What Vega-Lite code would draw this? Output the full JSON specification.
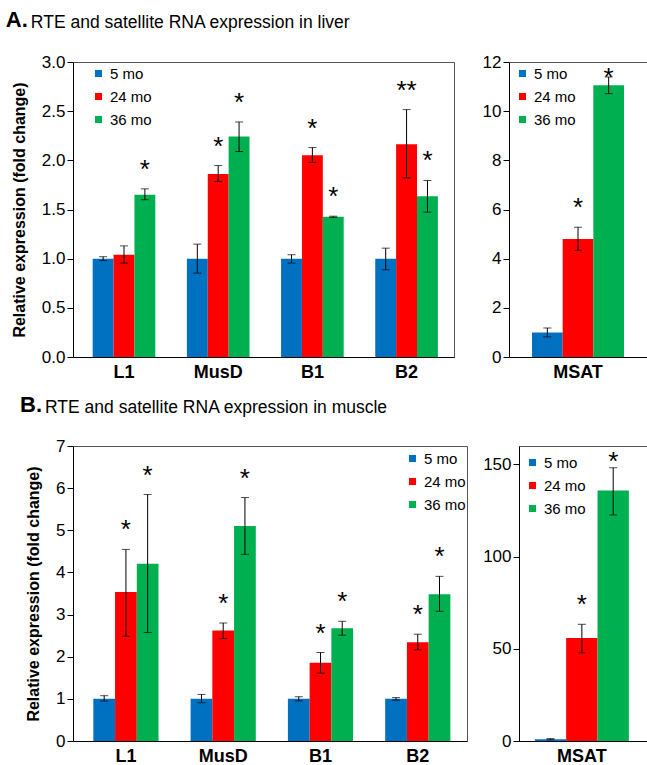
{
  "$schema": "https://vega.github.io/schema/vega-lite/v6.json",
  "padding": {"left": 5, "top": 9, "right": 0, "bottom": 0},
  "background": "white",
  "config": {
    "font": "Liberation Sans",
    "view": {"stroke": "#555", "strokeWidth": 1},
    "axis": {"labelColor": "black", "titleColor": "black", "domainColor": "black", "tickColor": "black", "grid": false, "labelFont": "Liberation Sans", "titleFont": "Liberation Sans"},
    "axisY": {"labelFontSize": 17, "tickSize": 6, "labelPadding": 2, "titleFontSize": 16, "titleFontWeight": "bold", "titlePadding": 14},
    "axisX": {"labelFontSize": 18, "labelFontWeight": "bold", "ticks": false, "labelAngle": 0, "labelPadding": 6, "title": null},
    "legend": {"title": null, "symbolType": "square", "symbolSize": 50, "labelFontSize": 15, "labelColor": "black", "rowPadding": 7, "labelOffset": 4, "symbolStrokeWidth": 0, "padding": 0, "orient": "none"},
    "title": {"color": "black", "anchor": "start", "frame": "bounds"}
  },
  "datasets": {
    "liver": [
      {"gene": "L1", "age": "5 mo", "value": 1.0, "lo": 0.98, "hi": 1.02, "sig": ""},
      {"gene": "L1", "age": "24 mo", "value": 1.04, "lo": 0.955, "hi": 1.13, "sig": ""},
      {"gene": "L1", "age": "36 mo", "value": 1.65, "lo": 1.6, "hi": 1.71, "sig": "*"},
      {"gene": "MusD", "age": "5 mo", "value": 1.0, "lo": 0.853, "hi": 1.148, "sig": ""},
      {"gene": "MusD", "age": "24 mo", "value": 1.862, "lo": 1.785, "hi": 1.947, "sig": "*"},
      {"gene": "MusD", "age": "36 mo", "value": 2.242, "lo": 2.09, "hi": 2.39, "sig": "*"},
      {"gene": "B1", "age": "5 mo", "value": 1.0, "lo": 0.955, "hi": 1.04, "sig": ""},
      {"gene": "B1", "age": "24 mo", "value": 2.052, "lo": 1.98, "hi": 2.13, "sig": "*"},
      {"gene": "B1", "age": "36 mo", "value": 1.426, "lo": 1.42, "hi": 1.432, "sig": "*"},
      {"gene": "B2", "age": "5 mo", "value": 1.0, "lo": 0.887, "hi": 1.107, "sig": ""},
      {"gene": "B2", "age": "24 mo", "value": 2.164, "lo": 1.822, "hi": 2.516, "sig": "**"},
      {"gene": "B2", "age": "36 mo", "value": 1.636, "lo": 1.473, "hi": 1.795, "sig": "*"}
    ],
    "liversat": [
      {"gene": "MSAT", "age": "5 mo", "value": 1.0, "lo": 0.82, "hi": 1.18, "sig": ""},
      {"gene": "MSAT", "age": "24 mo", "value": 4.805, "lo": 4.34, "hi": 5.28, "sig": "*"},
      {"gene": "MSAT", "age": "36 mo", "value": 11.05, "lo": 10.71, "hi": 11.39, "sig": "*"}
    ],
    "muscle": [
      {"gene": "L1", "age": "5 mo", "value": 1.0, "lo": 0.947, "hi": 1.075, "sig": ""},
      {"gene": "L1", "age": "24 mo", "value": 3.536, "lo": 2.486, "hi": 4.546, "sig": "*"},
      {"gene": "L1", "age": "36 mo", "value": 4.207, "lo": 2.573, "hi": 5.848, "sig": "*"},
      {"gene": "MusD", "age": "5 mo", "value": 1.0, "lo": 0.908, "hi": 1.105, "sig": ""},
      {"gene": "MusD", "age": "24 mo", "value": 2.62, "lo": 2.43, "hi": 2.8, "sig": "*"},
      {"gene": "MusD", "age": "36 mo", "value": 5.1, "lo": 4.428, "hi": 5.777, "sig": "*"},
      {"gene": "B1", "age": "5 mo", "value": 1.0, "lo": 0.95, "hi": 1.05, "sig": ""},
      {"gene": "B1", "age": "24 mo", "value": 1.855, "lo": 1.61, "hi": 2.1, "sig": "*"},
      {"gene": "B1", "age": "36 mo", "value": 2.676, "lo": 2.51, "hi": 2.84, "sig": "*"},
      {"gene": "B2", "age": "5 mo", "value": 1.0, "lo": 0.97, "hi": 1.03, "sig": ""},
      {"gene": "B2", "age": "24 mo", "value": 2.344, "lo": 2.163, "hi": 2.534, "sig": "*"},
      {"gene": "B2", "age": "36 mo", "value": 3.48, "lo": 3.078, "hi": 3.907, "sig": "*"}
    ],
    "musclesat": [
      {"gene": "MSAT", "age": "5 mo", "value": 1.0, "lo": 0.7, "hi": 1.3, "sig": ""},
      {"gene": "MSAT", "age": "24 mo", "value": 55.9, "lo": 47.8, "hi": 63.3, "sig": "*"},
      {"gene": "MSAT", "age": "36 mo", "value": 135.9, "lo": 122.6, "hi": 148.2, "sig": "*"}
    ]
  },
  "resolve": {"scale": {"color": "independent", "xOffset": "independent", "x": "independent", "y": "independent"}, "legend": {"color": "independent"}},
  "spacing": 12,
  "vconcat": [
    {
      "title": {"text": "A.", "fontSize": 22, "fontWeight": "bold", "offset": -18, "dx": -5},
      "resolve": {"scale": {"color": "independent", "xOffset": "independent", "x": "independent", "y": "independent"}, "legend": {"color": "independent"}},
      "vconcat": [
        {
          "title": {"text": "RTE and satellite RNA expression in liver", "fontSize": 17.5, "fontWeight": "normal", "offset": 21, "dx": 20},
          "bounds": "flush",
          "spacing": 55,
          "resolve": {"scale": {"color": "independent", "xOffset": "independent", "x": "independent", "y": "independent"}, "legend": {"color": "independent"}},
          "hconcat": [
            {
              "width": 381, "height": 295,
              "data": {"name": "liver"},
              "encoding": {
                "x": {"field": "gene", "type": "nominal", "sort": ["L1", "MusD", "B1", "B2"], "scale": {"paddingInner": 0.335, "paddingOuter": 0.19, "align": 0.55}},
                "xOffset": {"field": "age", "type": "nominal", "sort": ["5 mo", "24 mo", "36 mo"], "scale": {"paddingInner": 0, "paddingOuter": 0}}
              },
              "layer": [
                {"mark": {"type": "bar"}, "encoding": {
                  "y": {"field": "value", "type": "quantitative", "scale": {"domain": [0, 3]}, "axis": {"values": [0, 0.5, 1, 1.5, 2, 2.5, 3], "format": ".1f", "title": "Relative expression (fold change)"}},
                  "color": {"field": "age", "type": "nominal", "sort": ["5 mo", "24 mo", "36 mo"], "scale": {"domain": ["5 mo", "24 mo", "36 mo"], "range": ["#0070C0", "#FF0000", "#00B050"]}, "legend": {"legendX": 18, "legendY": 4}}
                }},
                {"mark": {"type": "rule", "color": "black", "strokeWidth": 1}, "encoding": {"y": {"field": "lo", "type": "quantitative"}, "y2": {"field": "hi"}}},
                {"mark": {"type": "tick", "color": "black", "thickness": 1, "size": 8}, "encoding": {"y": {"field": "lo", "type": "quantitative"}}},
                {"mark": {"type": "tick", "color": "black", "thickness": 1, "size": 8}, "encoding": {"y": {"field": "hi", "type": "quantitative"}}},
                {"mark": {"type": "text", "fontSize": 26, "baseline": "alphabetic", "dy": -11, "color": "black"}, "encoding": {"y": {"field": "hi", "type": "quantitative"}, "text": {"field": "sig"}}}
              ]
            },
            {
              "width": 138, "height": 295,
              "data": {"name": "liversat"},
              "encoding": {
                "x": {"field": "gene", "type": "nominal", "scale": {"paddingInner": 0, "paddingOuter": 0.25}},
                "xOffset": {"field": "age", "type": "nominal", "sort": ["5 mo", "24 mo", "36 mo"], "scale": {"paddingInner": 0, "paddingOuter": 0}}
              },
              "layer": [
                {"mark": {"type": "bar"}, "encoding": {
                  "y": {"field": "value", "type": "quantitative", "scale": {"domain": [0, 12]}, "axis": {"values": [0, 2, 4, 6, 8, 10, 12], "title": null}},
                  "color": {"field": "age", "type": "nominal", "sort": ["5 mo", "24 mo", "36 mo"], "scale": {"domain": ["5 mo", "24 mo", "36 mo"], "range": ["#0070C0", "#FF0000", "#00B050"]}, "legend": {"legendX": 6, "legendY": 4}}
                }},
                {"mark": {"type": "rule", "color": "black", "strokeWidth": 1}, "encoding": {"y": {"field": "lo", "type": "quantitative"}, "y2": {"field": "hi"}}},
                {"mark": {"type": "tick", "color": "black", "thickness": 1, "size": 8}, "encoding": {"y": {"field": "lo", "type": "quantitative"}}},
                {"mark": {"type": "tick", "color": "black", "thickness": 1, "size": 8}, "encoding": {"y": {"field": "hi", "type": "quantitative"}}},
                {"transform": [{"filter": "datum.age != '36 mo'"}], "mark": {"type": "text", "fontSize": 26, "baseline": "alphabetic", "dy": -11, "color": "black"}, "encoding": {"y": {"field": "hi", "type": "quantitative"}, "text": {"field": "sig"}}},
                {"transform": [{"filter": "datum.age == '36 mo'"}], "mark": {"type": "text", "fontSize": 26, "baseline": "alphabetic", "dy": 9, "color": "black"}, "encoding": {"y": {"field": "hi", "type": "quantitative"}, "text": {"field": "sig"}}}
              ]
            }
          ]
        }
      ]
    },
    {
      "title": {"text": "B.", "fontSize": 22, "fontWeight": "bold", "offset": -18, "dx": -5},
      "resolve": {"scale": {"color": "independent", "xOffset": "independent", "x": "independent", "y": "independent"}, "legend": {"color": "independent"}},
      "vconcat": [
        {
          "title": {"text": "RTE and satellite RNA expression in muscle", "fontSize": 17.5, "fontWeight": "normal", "offset": 20, "dx": 20},
          "bounds": "flush",
          "spacing": 52,
          "resolve": {"scale": {"color": "independent", "xOffset": "independent", "x": "independent", "y": "independent"}, "legend": {"color": "independent"}},
          "hconcat": [
            {
              "width": 394, "height": 295,
              "data": {"name": "muscle"},
              "encoding": {
                "x": {"field": "gene", "type": "nominal", "sort": ["L1", "MusD", "B1", "B2"], "scale": {"paddingInner": 0.33, "paddingOuter": 0.19, "align": 0.55}},
                "xOffset": {"field": "age", "type": "nominal", "sort": ["5 mo", "24 mo", "36 mo"], "scale": {"paddingInner": 0, "paddingOuter": 0}}
              },
              "layer": [
                {"mark": {"type": "bar"}, "encoding": {
                  "y": {"field": "value", "type": "quantitative", "scale": {"domain": [0, 7]}, "axis": {"values": [0, 1, 2, 3, 4, 5, 6, 7], "title": "Relative expression (fold change)"}},
                  "color": {"field": "age", "type": "nominal", "sort": ["5 mo", "24 mo", "36 mo"], "scale": {"domain": ["5 mo", "24 mo", "36 mo"], "range": ["#0070C0", "#FF0000", "#00B050"]}, "legend": {"legendX": 332, "legendY": 5}}
                }},
                {"mark": {"type": "rule", "color": "black", "strokeWidth": 1}, "encoding": {"y": {"field": "lo", "type": "quantitative"}, "y2": {"field": "hi"}}},
                {"mark": {"type": "tick", "color": "black", "thickness": 1, "size": 8}, "encoding": {"y": {"field": "lo", "type": "quantitative"}}},
                {"mark": {"type": "tick", "color": "black", "thickness": 1, "size": 8}, "encoding": {"y": {"field": "hi", "type": "quantitative"}}},
                {"mark": {"type": "text", "fontSize": 26, "baseline": "alphabetic", "dy": -11, "color": "black"}, "encoding": {"y": {"field": "hi", "type": "quantitative"}, "text": {"field": "sig"}}}
              ]
            },
            {
              "width": 142, "height": 295,
              "data": {"name": "musclesat"},
              "encoding": {
                "x": {"field": "gene", "type": "nominal", "scale": {"paddingInner": 0, "paddingOuter": 0.255, "align": 0.33}},
                "xOffset": {"field": "age", "type": "nominal", "sort": ["5 mo", "24 mo", "36 mo"], "scale": {"paddingInner": 0, "paddingOuter": 0}}
              },
              "layer": [
                {"mark": {"type": "bar"}, "encoding": {
                  "y": {"field": "value", "type": "quantitative", "scale": {"domain": [0, 160]}, "axis": {"values": [0, 50, 100, 150], "title": null}},
                  "color": {"field": "age", "type": "nominal", "sort": ["5 mo", "24 mo", "36 mo"], "scale": {"domain": ["5 mo", "24 mo", "36 mo"], "range": ["#0070C0", "#FF0000", "#00B050"]}, "legend": {"legendX": 6, "legendY": 9}}
                }},
                {"mark": {"type": "rule", "color": "black", "strokeWidth": 1}, "encoding": {"y": {"field": "lo", "type": "quantitative"}, "y2": {"field": "hi"}}},
                {"mark": {"type": "tick", "color": "black", "thickness": 1, "size": 8}, "encoding": {"y": {"field": "lo", "type": "quantitative"}}},
                {"mark": {"type": "tick", "color": "black", "thickness": 1, "size": 8}, "encoding": {"y": {"field": "hi", "type": "quantitative"}}},
                {"transform": [{"filter": "datum.age != '36 mo'"}], "mark": {"type": "text", "fontSize": 26, "baseline": "alphabetic", "dy": -11, "color": "black"}, "encoding": {"y": {"field": "hi", "type": "quantitative"}, "text": {"field": "sig"}}},
                {"transform": [{"filter": "datum.age == '36 mo'"}], "mark": {"type": "text", "fontSize": 26, "baseline": "alphabetic", "dy": 2, "color": "black"}, "encoding": {"y": {"field": "hi", "type": "quantitative"}, "text": {"field": "sig"}}}
              ]
            }
          ]
        }
      ]
    }
  ]
}
